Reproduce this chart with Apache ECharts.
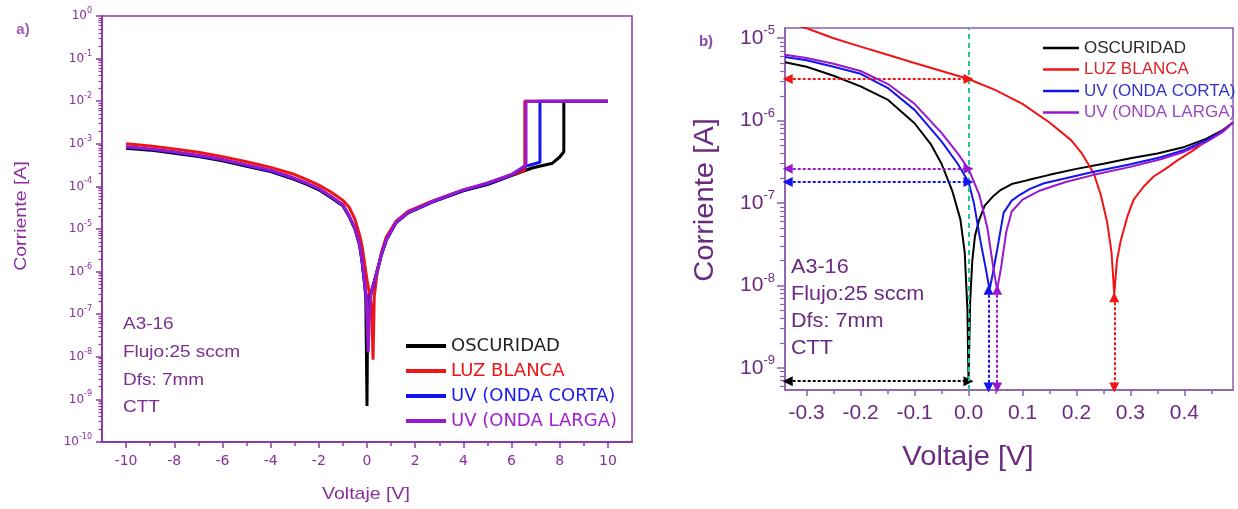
<!DOCTYPE html>
<html>
<head>
<meta charset="utf-8">
<script src="https://cdn.jsdelivr.net/npm/echarts@6/dist/echarts.min.js"></script>
<style>
  html, body { margin: 0; padding: 0; background: #ffffff; }
  #chart { width: 1238px; height: 509px; }
</style>
</head>
<body>
<div id="chart"></div>
<script>
// ---- series names (shared by both panels) ----
const seriesNames = ['OSCURIDAD', 'LUZ BLANCA', 'UV (ONDA CORTA)', 'UV (ONDA LARGA)'];

// ---- panel a) full sweep, -10 V .. 10 V (current in A) ----
const aDarkV = [-10, -9, -8, -7, -6, -5, -4, -3, -2.5, -2, -1.5, -1, -0.75, -0.5, -0.3, -0.2, -0.1, -0.05, 0, 0.03, 0.2, 0.4, 0.57, 0.8, 1.2, 1.7, 2.7, 4, 5, 6, 6.85, 7.7, 8.0, 8.17, 8.17, 10];
const aDarkI = [7.9e-4, 7.1e-4, 6.0e-4, 5.0e-4, 4.0e-4, 2.95e-4, 2.24e-4, 1.45e-4, 1.12e-4, 8.3e-5, 5.5e-5, 3.5e-5, 2.0e-5, 1.0e-5, 4.0e-6, 1.6e-6, 5.0e-7, 2.5e-7, 7.0e-10, 2.5e-7, 3.7e-7, 9.3e-7, 2.2e-6, 5.5e-6, 1.4e-5, 2.4e-5, 4.3e-5, 7.9e-5, 1.1e-4, 1.8e-4, 2.7e-4, 3.5e-4, 4.9e-4, 6.5e-4, 1.0e-2, 1.0e-2];

const aWhiteV = [-10, -9, -8, -7, -6, -5, -4, -3, -2.5, -2, -1.5, -1, -0.75, -0.5, -0.3, -0.2, -0.1, 0, 0.12, 0.2, 0.25, 0.3, 0.4, 0.6, 0.8, 1.2, 1.7, 2.7, 4, 5, 6, 6.55, 6.55, 10];
const aWhiteI = [1.0e-3, 8.9e-4, 7.6e-4, 6.3e-4, 5.0e-4, 3.8e-4, 2.8e-4, 1.9e-4, 1.45e-4, 1.07e-4, 7.4e-5, 4.7e-5, 3.3e-5, 1.7e-5, 7.0e-6, 3.8e-6, 1.6e-6, 6.3e-7, 2.8e-7, 1.26e-7, 8.5e-9, 2.5e-7, 7.9e-7, 2.8e-6, 6.5e-6, 1.5e-5, 2.6e-5, 4.5e-5, 8.3e-5, 1.17e-4, 1.85e-4, 2.4e-4, 1.0e-2, 1.0e-2];

const aShortV = [-10, -9, -8, -7, -6, -5, -4, -3, -2.5, -2, -1.5, -1, -0.75, -0.5, -0.3, -0.2, -0.1, -0.03, 0.04, 0.12, 0.22, 0.4, 0.57, 0.8, 1.2, 1.7, 2.7, 4, 5, 6, 6.6, 7.18, 7.18, 10];
const aShortI = [8.3e-4, 7.4e-4, 6.3e-4, 5.2e-4, 4.2e-4, 3.1e-4, 2.3e-4, 1.5e-4, 1.17e-4, 8.7e-5, 5.7e-5, 3.6e-5, 2.05e-5, 1.03e-5, 4.1e-6, 1.7e-6, 5.3e-7, 2.5e-7, 4.0e-8, 2.5e-7, 3.7e-7, 9.3e-7, 2.2e-6, 5.5e-6, 1.4e-5, 2.4e-5, 4.3e-5, 8.1e-5, 1.15e-4, 1.85e-4, 3.0e-4, 3.7e-4, 1.0e-2, 1.0e-2];

const aLongV = [-10, -9, -8, -7, -6, -5, -4, -3, -2.5, -2, -1.5, -1, -0.75, -0.5, -0.3, -0.2, -0.1, -0.03, 0.05, 0.13, 0.22, 0.4, 0.57, 0.8, 1.2, 1.7, 2.7, 4, 5, 6, 6.6, 6.6, 10];
const aLongI = [8.5e-4, 7.6e-4, 6.5e-4, 5.4e-4, 4.3e-4, 3.2e-4, 2.4e-4, 1.55e-4, 1.2e-4, 8.9e-5, 5.9e-5, 3.7e-5, 2.1e-5, 1.05e-5, 4.2e-6, 1.8e-6, 5.6e-7, 2.6e-7, 1.26e-8, 2.5e-7, 3.8e-7, 9.5e-7, 2.25e-6, 5.6e-6, 1.42e-5, 2.45e-5, 4.4e-5, 8.3e-5, 1.2e-4, 1.9e-4, 3.2e-4, 1.0e-2, 1.0e-2];

// ---- panel b) low-bias detail, -0.34 V .. 0.49 V ----
const bDarkV = [-0.34, -0.3, -0.25, -0.2, -0.15, -0.1, -0.07, -0.05, -0.03, -0.015, -0.007, -0.002, 0, 0.003, 0.007, 0.012, 0.02, 0.03, 0.045, 0.06, 0.08, 0.11, 0.15, 0.2, 0.25, 0.3, 0.35, 0.4, 0.44, 0.47, 0.49];
const bDarkI = [5.1e-6, 4.5e-6, 3.5e-6, 2.6e-6, 1.8e-6, 9.3e-7, 5.2e-7, 3.0e-7, 1.4e-7, 6.3e-8, 2.5e-8, 5.0e-9, 6.6e-10, 6.3e-9, 2.0e-8, 4.0e-8, 6.3e-8, 9.3e-8, 1.2e-7, 1.45e-7, 1.7e-7, 1.9e-7, 2.2e-7, 2.6e-7, 3.0e-7, 3.5e-7, 4.0e-7, 4.8e-7, 6.0e-7, 7.6e-7, 9.5e-7];

const bWhiteV = [-0.34, -0.3, -0.25, -0.2, -0.15, -0.1, -0.05, 0, 0.05, 0.1, 0.15, 0.19, 0.21, 0.232, 0.245, 0.257, 0.265, 0.27, 0.275, 0.282, 0.295, 0.306, 0.325, 0.343, 0.365, 0.387, 0.415, 0.443, 0.47, 0.49];
const bWhiteI = [1.58e-5, 1.32e-5, 1.0e-5, 7.9e-6, 6.3e-6, 5.0e-6, 4.0e-6, 3.2e-6, 2.35e-6, 1.6e-6, 9.5e-7, 5.8e-7, 4.0e-7, 2.3e-7, 1.26e-7, 5.8e-8, 2.5e-8, 7.9e-9, 2.0e-8, 3.5e-8, 7.1e-8, 1.1e-7, 1.6e-7, 2.1e-7, 2.6e-7, 3.3e-7, 4.3e-7, 5.8e-7, 7.6e-7, 9.5e-7];

const bShortV = [-0.34, -0.3, -0.25, -0.2, -0.15, -0.1, -0.05, -0.02, 0, 0.01, 0.022, 0.032, 0.039, 0.045, 0.053, 0.065, 0.08, 0.095, 0.115, 0.14, 0.18, 0.232, 0.3, 0.356, 0.4, 0.44, 0.47, 0.49];
const bShortI = [5.9e-6, 5.4e-6, 4.5e-6, 3.7e-6, 2.5e-6, 1.35e-6, 5.6e-7, 3.0e-7, 1.8e-7, 1.0e-7, 3.5e-8, 1.6e-8, 8.9e-9, 1.4e-8, 2.7e-8, 7.6e-8, 1.07e-7, 1.26e-7, 1.5e-7, 1.74e-7, 2.0e-7, 2.4e-7, 2.95e-7, 3.6e-7, 4.4e-7, 5.75e-7, 7.4e-7, 9.5e-7];

const bLongV = [-0.34, -0.3, -0.25, -0.2, -0.15, -0.1, -0.05, -0.02, 0, 0.02, 0.035, 0.045, 0.053, 0.06, 0.07, 0.08, 0.1, 0.13, 0.18, 0.232, 0.3, 0.356, 0.4, 0.44, 0.47, 0.49];
const bLongI = [6.3e-6, 5.75e-6, 4.9e-6, 4.0e-6, 2.8e-6, 1.6e-6, 7.1e-7, 4.0e-7, 2.6e-7, 1.26e-7, 5.0e-8, 1.8e-8, 8.9e-9, 1.6e-8, 4.5e-8, 7.9e-8, 1.1e-7, 1.4e-7, 1.8e-7, 2.2e-7, 2.75e-7, 3.4e-7, 4.2e-7, 5.5e-7, 7.2e-7, 9.5e-7];

// zero-bias current of each curve (horizontal arrows) and minimum-current voltage (vertical arrows)
const bZeroBiasI = [6.9e-10, 3.2e-6, 1.8e-7, 2.6e-7];
const bDipV = [null, 0.27, 0.037, 0.053];
const bDipI = [null, 7.2e-9, 8.9e-9, 8.9e-9];
const bArrowStartV = -0.335;
const bArrowFloorI = 5.8e-10;

// ---- axis ticks and labels ----
const aXMajor = [-10, -8, -6, -4, -2, 0, 2, 4, 6, 8, 10];
const aXMinor = [-9, -7, -5, -3, -1, 1, 3, 5, 7, 9];
const aYMajor = [1e-10, 1e-9, 1e-8, 1e-7, 1e-6, 1e-5, 1e-4, 1e-3, 1e-2, 1e-1, 1];
const bXMajor = [-0.3, -0.2, -0.1, 0, 0.1, 0.2, 0.3, 0.4];
const bXMinor = [-0.25, -0.15, -0.05, 0.05, 0.15, 0.25, 0.35, 0.45];
const bYMajor = [1e-9, 1e-8, 1e-7, 1e-6, 1e-5];
const aYMinor = [];
aYMajor.slice(0, -1).forEach(d => { for (let k = 2; k <= 9; k++) aYMinor.push(k * d); });
const bYMinor = [6e-10, 7e-10, 8e-10, 9e-10];
bYMajor.slice(0, -1).forEach(d => { for (let k = 2; k <= 9; k++) bYMinor.push(k * d); });

// ---- look ----
const colors = ['#000000', '#f01414', '#1414ee', '#9619cf'];
const legendText = ['#1e1e28', '#f01414', '#1a1af0', '#a020d0'];
const legendTextB = ['#2a2a2a', '#d8262b', '#3434c6', '#9a48c2'];
const frameA = '#8c3aa6';
const frameB = '#8a5cae';
const labelA = '#8a2e9d';
const labelB = '#6a2a80';
const sans = 'Liberation Sans, Arial, sans-serif';
const wide = 'DejaVu Sans, Verdana, sans-serif';

const zip = (v, i) => v.map((x, k) => [x, i[k]]);
// "10" with the decade exponent raised as a superscript
const pow10 = (family, col, fs, fsSup, lh) => ({
  formatter: v => '{b|10}{s|' + Math.round(Math.log10(v)) + '}',
  rich: {
    b: { fontSize: fs, lineHeight: lh, color: col, fontFamily: family },
    s: { fontSize: fsSup, lineHeight: fsSup, verticalAlign: 'top', color: col, fontFamily: family }
  }
});

const aSeriesData = [zip(aDarkV, aDarkI), zip(aWhiteV, aWhiteI), zip(aShortV, aShortI), zip(aLongV, aLongI)];
const bSeriesData = [zip(bDarkV, bDarkI), zip(bWhiteV, bWhiteI), zip(bShortV, bShortI), zip(bLongV, bLongI)];

const series = [];
seriesNames.forEach((name, k) => {
  series.push({
    type: 'line', name, xAxisIndex: 0, yAxisIndex: 0, data: aSeriesData[k],
    symbol: 'none', lineStyle: { width: 3, color: colors[k] }, itemStyle: { color: colors[k] },
    z: 2 + k, clip: true
  });
});
seriesNames.forEach((name, k) => {
  const arrows = [[
    { coord: [bArrowStartV, bZeroBiasI[k]] },
    { coord: [0, bZeroBiasI[k]] }
  ]];
  if (bDipV[k] !== null) {
    arrows.push([
      { coord: [bDipV[k], bDipI[k]] },
      { coord: [bDipV[k], bArrowFloorI] }
    ]);
  }
  if (k === 0) {
    // zero-bias guide line
    arrows.push([
      { coord: [0, 5.4e-10], symbol: 'none', lineStyle: { color: '#22c596', type: [5, 4], width: 2 } },
      { coord: [0, 1.33e-5], symbol: 'none' }
    ]);
  }
  series.push({
    type: 'line', name, xAxisIndex: 1, yAxisIndex: 1, data: bSeriesData[k],
    symbol: 'none', lineStyle: { width: 2, color: colors[k] }, itemStyle: { color: colors[k] },
    z: 2 + k, clip: true,
    markLine: {
      silent: true, symbol: ['triangle', 'triangle'], symbolSize: [10, 10],
      label: { show: false },
      lineStyle: { color: colors[k], type: [3, 2], width: 2 },
      data: arrows
    }
  });
});

const option = {
  animation: false,
  backgroundColor: '#ffffff',
  grid: [
    { left: 102, top: 16, width: 530, height: 426, show: true, borderColor: frameA, borderWidth: 1.5 },
    { left: 785, top: 28, width: 448, height: 362, show: true, borderColor: frameB, borderWidth: 1.5 },
    { left: 102, top: 16, width: 530, height: 426 },
    { left: 785, top: 28, width: 448, height: 362 }
  ],
  xAxis: [
    {
      gridIndex: 0, type: 'value', min: -11, max: 11,
      axisLine: { onZero: false, lineStyle: { color: frameA, width: 2 } },
      axisTick: { customValues: aXMajor, length: 6, lineStyle: { color: frameA, width: 1.5 } },
      axisLabel: { customValues: aXMajor, color: labelA, fontSize: 14, fontFamily: wide, margin: 12 },
      splitLine: { show: false }
    },
    {
      gridIndex: 1, type: 'value', min: -0.34, max: 0.49,
      axisLine: { onZero: false, lineStyle: { color: frameB, width: 1.5 } },
      axisTick: { customValues: bXMajor, length: 6, lineStyle: { color: frameB, width: 1.5 } },
      axisLabel: { customValues: bXMajor, color: labelB, fontSize: 21, fontFamily: sans, margin: 13,
        formatter: v => v.toFixed(1) },
      splitLine: { show: false }
    },
    {
      gridIndex: 2, type: 'value', min: -11, max: 11,
      axisLine: { show: false, onZero: false },
      axisTick: { customValues: aXMinor, length: 4, lineStyle: { color: frameA, width: 1.5 } },
      axisLabel: { show: false }, splitLine: { show: false }
    },
    {
      gridIndex: 3, type: 'value', min: -0.34, max: 0.49,
      axisLine: { show: false, onZero: false },
      axisTick: { customValues: bXMinor, length: 4, lineStyle: { color: frameB, width: 1.5 } },
      axisLabel: { show: false }, splitLine: { show: false }
    }
  ],
  yAxis: [
    {
      gridIndex: 0, type: 'log', min: 1e-10, max: 1,
      axisLine: { onZero: false, lineStyle: { color: frameA, width: 2 } },
      axisTick: { customValues: aYMajor, length: 6, lineStyle: { color: frameA, width: 1.5 } },
      axisLabel: Object.assign({ customValues: aYMajor, margin: 10 }, pow10(wide, labelA, 12, 8, 18)),
      splitLine: { show: false }
    },
    {
      gridIndex: 1, type: 'log', min: 5.4e-10, max: 1.33e-5,
      axisLine: { onZero: false, lineStyle: { color: frameB, width: 1.5 } },
      axisTick: { customValues: bYMajor, length: 8, lineStyle: { color: frameB, width: 1.5 } },
      axisLabel: Object.assign({ customValues: bYMajor, margin: 10 }, pow10(sans, labelB, 21, 13, 28)),
      splitLine: { show: false }
    },
    {
      gridIndex: 2, type: 'log', min: 1e-10, max: 1,
      axisLine: { show: false, onZero: false },
      axisTick: { customValues: aYMinor, length: 3.5, lineStyle: { color: frameA, width: 1.2 } },
      axisLabel: { show: false }, splitLine: { show: false }
    },
    {
      gridIndex: 3, type: 'log', min: 5.4e-10, max: 1.33e-5,
      axisLine: { show: false, onZero: false },
      axisTick: { customValues: bYMinor, length: 5, lineStyle: { color: frameB, width: 1.2 } },
      axisLabel: { show: false }, splitLine: { show: false }
    }
  ],
  legend: [
    {
      orient: 'vertical', left: 401, top: 331, icon: 'rect', itemWidth: 40, itemHeight: 4, itemGap: 5,
      textStyle: { fontSize: 18, fontFamily: wide, lineHeight: 20 },
      data: seriesNames.map((n, k) => ({ name: n, textStyle: { color: legendText[k] } }))
    },
    {
      orient: 'vertical', left: 1038, top: 34, icon: 'rect', itemWidth: 36, itemHeight: 2.5, itemGap: 3.5,
      textStyle: { fontSize: 17, fontFamily: sans, lineHeight: 18 },
      data: seriesNames.map((n, k) => ({ name: n, textStyle: { color: legendTextB[k] } }))
    }
  ],
  graphic: [
    { type: 'text', x: 23, y: 30, style: { text: 'a)', fontSize: 15, fontWeight: 'bold', fontFamily: sans, fill: '#9b5cb8', textAlign: 'center', textVerticalAlign: 'middle' } },
    { type: 'text', x: 706, y: 42, style: { text: 'b)', fontSize: 15, fontWeight: 'bold', fontFamily: sans, fill: '#8d47b0', textAlign: 'center', textVerticalAlign: 'middle' } },
    { type: 'text', x: 21, y: 216, rotation: Math.PI / 2, scaleX: 1.15, style: { text: 'Corriente [A]', fontSize: 17, fontFamily: sans, fill: labelA, textAlign: 'center', textVerticalAlign: 'middle' } },
    { type: 'text', x: 366, y: 494, scaleX: 1.15, style: { text: 'Voltaje [V]', fontSize: 17, fontFamily: sans, fill: labelA, textAlign: 'center', textVerticalAlign: 'middle' } },
    { type: 'text', x: 706, y: 200, rotation: Math.PI / 2, scaleX: 1.08, style: { text: 'Corriente [A]', fontSize: 27, fontFamily: sans, fill: labelB, textAlign: 'center', textVerticalAlign: 'middle' } },
    { type: 'text', x: 968, y: 458, scaleX: 1.08, style: { text: 'Voltaje [V]', fontSize: 27, fontFamily: sans, fill: labelB, textAlign: 'center', textVerticalAlign: 'middle' } },
    { type: 'text', x: 123, y: 324, scaleX: 1.15, style: { text: 'A3-16', fontSize: 16.5, fontFamily: sans, fill: '#7e2d92', textAlign: 'left', textVerticalAlign: 'middle' } },
    { type: 'text', x: 123, y: 352, scaleX: 1.15, style: { text: 'Flujo:25 sccm', fontSize: 16.5, fontFamily: sans, fill: '#7e2d92', textAlign: 'left', textVerticalAlign: 'middle' } },
    { type: 'text', x: 123, y: 380, scaleX: 1.15, style: { text: 'Dfs: 7mm', fontSize: 16.5, fontFamily: sans, fill: '#7e2d92', textAlign: 'left', textVerticalAlign: 'middle' } },
    { type: 'text', x: 123, y: 407, scaleX: 1.15, style: { text: 'CTT', fontSize: 16.5, fontFamily: sans, fill: '#7e2d92', textAlign: 'left', textVerticalAlign: 'middle' } },
    { type: 'text', x: 791, y: 267, scaleX: 1.08, style: { text: 'A3-16', fontSize: 20, fontFamily: sans, fill: labelB, textAlign: 'left', textVerticalAlign: 'middle' } },
    { type: 'text', x: 791, y: 294, scaleX: 1.08, style: { text: 'Flujo:25 sccm', fontSize: 20, fontFamily: sans, fill: labelB, textAlign: 'left', textVerticalAlign: 'middle' } },
    { type: 'text', x: 791, y: 321, scaleX: 1.08, style: { text: 'Dfs: 7mm', fontSize: 20, fontFamily: sans, fill: labelB, textAlign: 'left', textVerticalAlign: 'middle' } },
    { type: 'text', x: 791, y: 348, scaleX: 1.08, style: { text: 'CTT', fontSize: 20, fontFamily: sans, fill: labelB, textAlign: 'left', textVerticalAlign: 'middle' } }
  ],
  series
};

const chart = echarts.init(document.getElementById('chart'), null, { renderer: 'canvas' });
chart.setOption(option);
</script>
</body>
</html>
